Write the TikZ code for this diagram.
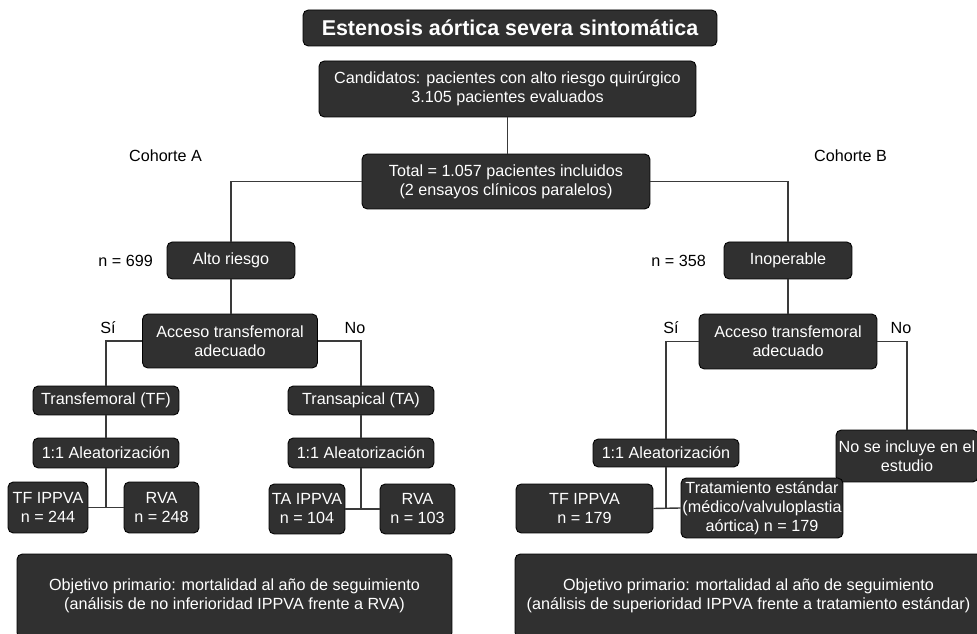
\documentclass[tikz,border=0pt]{standalone}
\usepackage{fontspec}
\setmainfont{Liberation Sans}
\usepackage{tikz}
\usetikzlibrary{positioning}
\definecolor{cajagris}{HTML}{303030}
\definecolor{lineagris}{HTML}{3A3A3A}

\begin{document}
\begin{tikzpicture}[x=0.02cm,y=-0.02cm, font=\fontsize{9.2}{10.8}\selectfont,
  caja/.style={draw=black, line width=0.5pt, fill=cajagris, text=white, rounded corners=3pt, align=center, inner sep=0pt},
  enlace/.style={draw=lineagris, line width=0.8pt}]
  \useasboundingbox (0,0) rectangle (977,634);
  \clip (0,0) rectangle (977,634);
  % cabecera
  \node[caja, minimum width=8.28cm, minimum height=0.72cm, font={\fontsize{12.2}{14}\selectfont\bfseries}] (titulo) at (510,28) {Estenosis aórtica severa sintomática};
  \node[caja, minimum width=7.54cm, minimum height=1.12cm] (cand) at (507.5,89) {Candidatos: pacientes con alto riesgo quirúrgico\\3.105 pacientes evaluados};
  \node[caja, minimum width=5.76cm, minimum height=1.10cm] (total) at (506,181.5) {Total = 1.057 pacientes incluidos\\(2 ensayos clínicos paralelos)};
  \node (cohA) at (165.5,156) {Cohorte A};
  \node (cohB) at (850.5,156) {Cohorte B};
  % cohorte A
  \node[caja, minimum width=2.56cm, minimum height=0.74cm] (altoA) at (231,260.5) {Alto riesgo};
  \node[anchor=east] (nA) at (159,261) {n = 699};
  \node[caja, minimum width=3.50cm, minimum height=1.08cm] (accA) at (230,341) {Acceso transfemoral\\adecuado};
  \node (siA) at (108,328) {Sí};
  \node (noA) at (355,328) {No};
  \node[caja, minimum width=2.92cm, minimum height=0.58cm] (tfA) at (106,400.5) {Transfemoral (TF)};
  \node[caja, minimum width=2.92cm, minimum height=0.58cm] (taA) at (361,400.5) {Transapical (TA)};
  \node[caja, minimum width=2.92cm, minimum height=0.60cm] (aleA) at (106,453) {1:1 Aleatorización};
  \node[caja, minimum width=2.92cm, minimum height=0.60cm] (aleAb) at (361,453) {1:1 Aleatorización};
  \node[caja, minimum width=1.60cm, minimum height=1.02cm] (tfipA) at (48,507.5) {TF IPPVA\\n = 244};
  \node[caja, minimum width=1.50cm, minimum height=1.02cm] (rvaA) at (161.5,507.5) {RVA\\n = 248};
  \node[caja, minimum width=1.52cm, minimum height=1.00cm] (taip) at (307,509) {TA IPPVA\\n = 104};
  \node[caja, minimum width=1.50cm, minimum height=1.00cm] (rvaAb) at (417.5,509) {RVA\\n = 103};
  \node[caja, minimum width=8.70cm, minimum height=1.68cm] (objA) at (234.5,596) {Objetivo primario: mortalidad al año de seguimiento\\(análisis de no inferioridad IPPVA frente a RVA)};
  % cohorte B
  \node[caja, minimum width=2.56cm, minimum height=0.74cm] (inop) at (788,260.5) {Inoperable};
  \node[anchor=east] (nB) at (712,261) {n = 358};
  \node[caja, minimum width=3.56cm, minimum height=1.10cm] (accB) at (788,341.5) {Acceso transfemoral\\adecuado};
  \node (siB) at (671,328) {Sí};
  \node (noB) at (901,328) {No};
  \node[caja, minimum width=2.84cm, minimum height=1.04cm] (nose) at (907,456) {No se incluye en el\\estudio};
  \node[caja, minimum width=2.92cm, minimum height=0.56cm] (aleB) at (666,453) {1:1 Aleatorización};
  \node[caja, minimum width=2.74cm, minimum height=0.98cm] (tfipB) at (584.5,508.5) {TF IPPVA\\n = 179};
  \node[caja, minimum width=3.24cm, minimum height=1.20cm] (trat) at (762,508) {Tratamiento estándar\\(médico/valvuloplastia\\aórtica) n = 179};
  \node[caja, minimum width=9.34cm, minimum height=1.68cm] (objB) at (748.5,596) {Objetivo primario: mortalidad al año de seguimiento\\(análisis de superioridad IPPVA frente a tratamiento estándar)};
  % enlaces
  \draw[enlace] (cand.south) -- (cand.south |- total.north);
  \draw[enlace] (total.west) -| (altoA.north);
  \draw[enlace] (total.east) -| (inop.north);
  \draw[enlace] (altoA.south) -- (altoA.south |- accA.north);
  \draw[enlace] (accA.west) -| (tfA.north);
  \draw[enlace] (accA.east) -| (taA.north);
  \draw[enlace] (tfA) -- (aleA);
  \draw[enlace] (taA) -- (aleAb);
  \draw[enlace] (aleA.south) -- (aleA.south |- tfipA.east);
  \draw[enlace] (tfipA.east) -- (rvaA.west);
  \draw[enlace] (aleAb.south) -- (aleAb.south |- taip.east);
  \draw[enlace] (taip.east) -- (rvaAb.west);
  \draw[enlace] (inop) -- (accB);
  \draw[enlace] (accB.west) -| (aleB.north);
  \draw[enlace] (accB.east) -| (nose.north);
  \draw[enlace] (aleB.south) -- (aleB.south |- tfipB.east);
  \draw[enlace] (tfipB.east) -- (trat.west);
\end{tikzpicture}
\end{document}
